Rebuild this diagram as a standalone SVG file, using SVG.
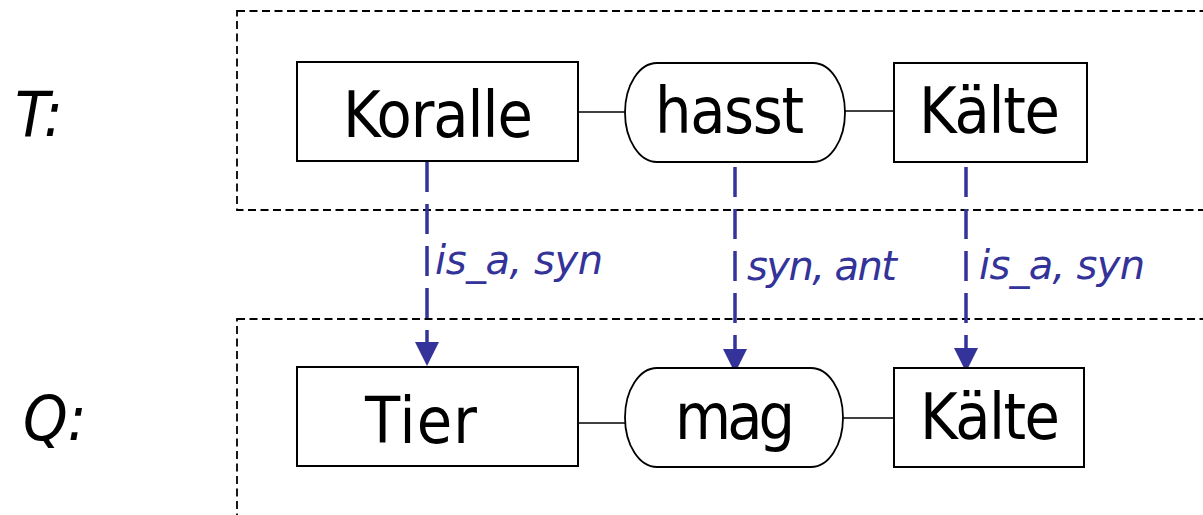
<svg xmlns="http://www.w3.org/2000/svg" width="1203" height="515" viewBox="0 0 1203 515">
<style>
.frame{fill:none;stroke:#000;stroke-width:1.8;stroke-dasharray:8 4.5}
.box{fill:#fff;stroke:#000;stroke-width:2}
.pill{fill:#fff;stroke:#000;stroke-width:1.8}
.link{stroke:#000;stroke-width:1.6;fill:none}
.rel{stroke:#333399;stroke-width:3.5;fill:none;stroke-dasharray:30 12}
.nt{font-family:"DejaVu Sans Condensed","DejaVu Sans",sans-serif;font-size:64px;fill:#000}
.lab{font-family:"DejaVu Sans Condensed","DejaVu Sans",sans-serif;font-style:italic;font-size:63px;fill:#000}
.rl{font-family:"DejaVu Sans",sans-serif;font-style:italic;font-size:40px;fill:#333399}
</style>
<defs>
<marker id="ah" viewBox="0 0 24 24" refX="0" refY="12" markerWidth="24" markerHeight="24" markerUnits="userSpaceOnUse" orient="auto">
<path d="M0,0 L24,12 L0,24 Z" fill="#333399"/>
</marker>
</defs>
<g id="frames">
<rect class="frame" x="237" y="11" width="1010" height="199"/>
<rect class="frame" x="237" y="319" width="1010" height="260"/>
<text class="lab" x="15" y="136">T:</text>
<text class="lab" x="23" y="440">Q:</text>
</g>
<g id="connectors">
<line class="link" x1="578" y1="112" x2="626" y2="112"/>
<line class="link" x1="845" y1="111" x2="894" y2="111"/>
<line class="link" x1="578" y1="423" x2="626" y2="423"/>
<line class="link" x1="843" y1="418" x2="894" y2="418"/>
<line class="rel" x1="427" y1="162" x2="427" y2="342" marker-end="url(#ah)"/>
<line class="rel" x1="735" y1="167" x2="735" y2="349" marker-end="url(#ah)"/>
<line class="rel" x1="966" y1="167" x2="966" y2="348" marker-end="url(#ah)"/>
<text class="rl" x="435" y="274" textLength="168">is_a, syn</text>
<text class="rl" x="747" y="280" textLength="150">syn, ant</text>
<text class="rl" x="979" y="279" textLength="166">is_a, syn</text>
</g>
<g id="n-koralle">
<rect class="box" x="297" y="62" width="281" height="99"/>
<text class="nt" x="343" y="137" textLength="190">Koralle</text>
</g>
<g id="n-hasst">
<rect class="pill" x="625" y="63" width="220" height="99" rx="32" ry="49.5"/>
<text class="nt" x="655" y="133" textLength="149">hasst</text>
</g>
<g id="n-kaelte-t">
<rect class="box" x="894" y="63" width="193" height="99"/>
<text class="nt" x="919" y="133" textLength="141">Kälte</text>
</g>
<g id="n-tier">
<rect class="box" x="297" y="367" width="281" height="99"/>
<text class="nt" x="365" y="443" textLength="112">Tier</text>
</g>
<g id="n-mag">
<rect class="pill" x="625" y="368" width="218" height="99" rx="32" ry="49.5"/>
<text class="nt" x="675" y="439" textLength="120">mag</text>
</g>
<g id="n-kaelte-q">
<rect class="box" x="894" y="368" width="190" height="99"/>
<text class="nt" x="920" y="439" textLength="140">Kälte</text>
</g>
</svg>
